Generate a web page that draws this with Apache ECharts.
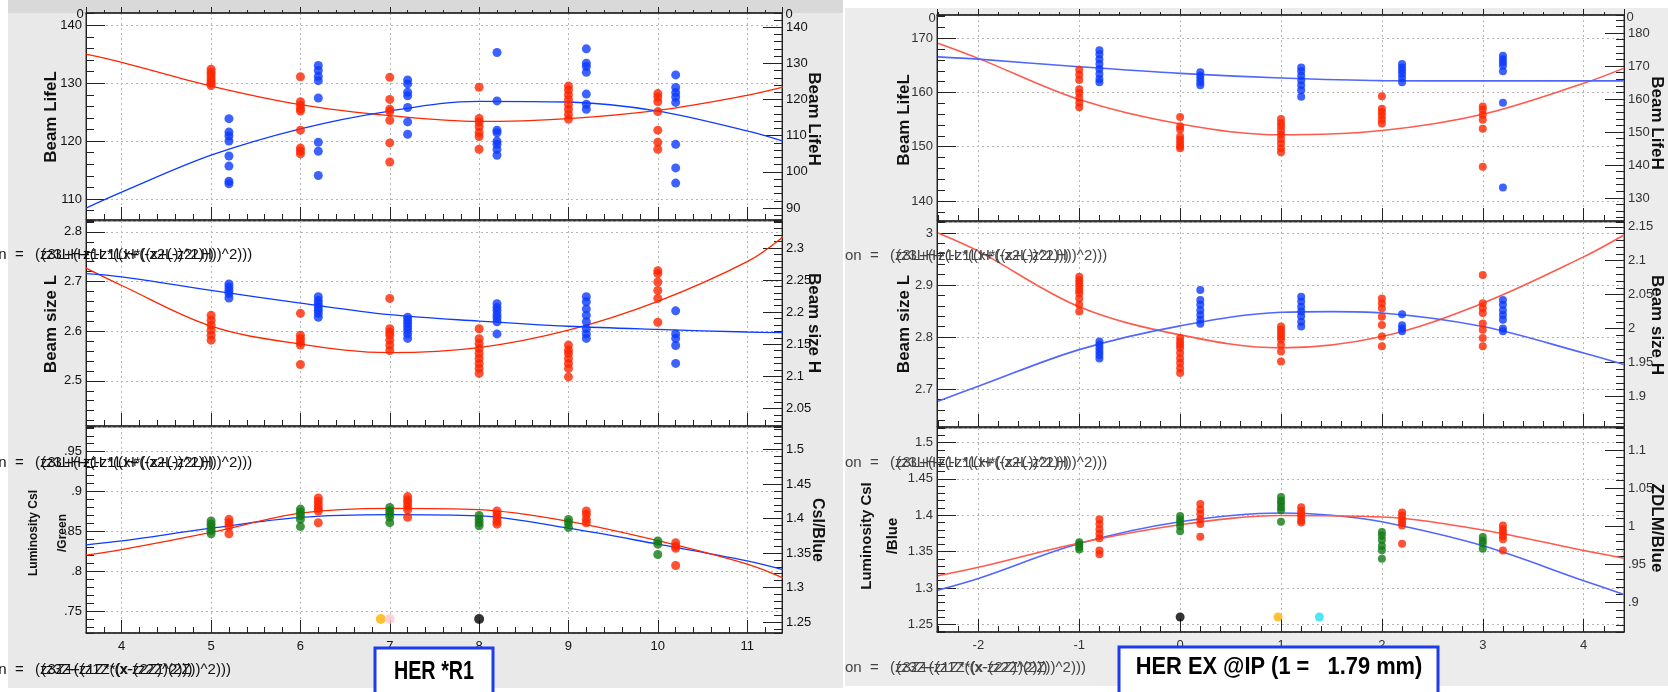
<!DOCTYPE html>
<html>
<head>
<meta charset="utf-8">
<script src="https://cdn.jsdelivr.net/npm/echarts@6.0.0/dist/echarts.min.js"></script>
<style>
html, body { margin: 0; padding: 0; background: #fff; }
#chart { width: 1668px; height: 692px; }
</style>
</head>
<body>
<div id="chart"></div>
<script>
// ---- values: [x, [y values]] per column ----
// HER *R1 scan (left panel)
const r1_lifeL = [[5, [132.4, 131.9, 131.4, 130.9, 130.4, 130.0, 129.6]], [6, [131.1, 126.8, 126.2, 125.6, 125.2, 121.9, 118.8, 118.3, 117.8]], [7, [131.0, 127.2, 125.5, 125.1, 123.6, 119.7, 116.4]], [8, [129.3, 123.9, 123.3, 122.5, 121.5, 120.8, 118.6]], [9, [129.5, 128.8, 128.0, 127.2, 126.3, 125.5, 124.6, 123.8]], [10, [128.2, 127.6, 126.8, 125.1, 121.9, 119.8, 118.6]]];
const r1_lifeH = [[5.2, [114.7, 111.0, 109.9, 108.5, 104.4, 101.6, 97.4, 96.7]], [6.2, [129.4, 128.0, 126.4, 125.2, 120.4, 108.2, 105.7, 99.0]], [7.2, [125.4, 124.3, 122.0, 121.0, 117.8, 113.8, 110.4]], [8.2, [133.0, 119.6, 111.5, 110.8, 108.5, 107.6, 106.2, 104.6]], [9.2, [134.0, 130.0, 129.1, 127.5, 121.5, 118.7, 117.3]], [10.2, [126.8, 123.3, 121.9, 120.7, 119.2, 107.6, 101.1, 96.9]]];
const r1_fitLifeL = [[3.6, 135.0], [4, 133.6], [5, 129.5], [6, 126.3], [7, 124.4], [8, 123.4], [9, 123.9], [10, 125.3], [11, 127.9], [11.4, 129.3]];
const r1_fitLifeH = [[3.6, 90.0], [4, 94.4], [5, 104.6], [6, 111.9], [7, 116.8], [8, 119.5], [9, 119.3], [10, 116.8], [11, 111.3], [11.4, 108.5]];

const r1_sizeL = [[5, [2.632, 2.622, 2.612, 2.602, 2.592, 2.582]], [6, [2.636, 2.592, 2.585, 2.578, 2.572, 2.533]], [7, [2.666, 2.605, 2.598, 2.592, 2.582, 2.572, 2.561]], [8, [2.605, 2.585, 2.575, 2.565, 2.555, 2.545, 2.535, 2.525, 2.515]], [9, [2.572, 2.562, 2.555, 2.545, 2.535, 2.525, 2.508]], [10, [2.722, 2.716, 2.699, 2.682, 2.666, 2.618]]];
const r1_sizeH = [[5.2, [2.244, 2.239, 2.234, 2.229, 2.222]], [6.2, [2.224, 2.218, 2.213, 2.208, 2.203, 2.198, 2.192]], [7.2, [2.192, 2.187, 2.182, 2.177, 2.172, 2.166, 2.159]], [8.2, [2.213, 2.207, 2.202, 2.196, 2.191, 2.185, 2.166]], [9.2, [2.224, 2.216, 2.205, 2.195, 2.185, 2.174, 2.166, 2.159]], [10.2, [2.202, 2.166, 2.159, 2.148, 2.120]]];
const r1_fitSizeL = [[3.6, 2.727], [4, 2.692], [5, 2.61], [6, 2.574], [7, 2.557], [8, 2.567], [9, 2.602], [10, 2.66], [11, 2.74], [11.4, 2.79]];
const r1_fitSizeH = [[3.6, 2.26], [4, 2.255], [5, 2.234], [6, 2.214], [7, 2.196], [8, 2.186], [9, 2.178], [10, 2.173], [11, 2.169], [11.4, 2.168]];

const r1_lumGreen = [[5, [0.863, 0.859, 0.855, 0.851, 0.847]], [6, [0.878, 0.874, 0.870, 0.865, 0.856]], [7, [0.880, 0.876, 0.872, 0.868, 0.861]], [8, [0.870, 0.865, 0.861, 0.857]], [9, [0.865, 0.861, 0.855]], [10, [0.838, 0.834, 0.821]]];
const r1_lumBlue = [[5.2, [1.399, 1.394, 1.389, 1.378]], [6.2, [1.430, 1.425, 1.420, 1.415, 1.411, 1.394]], [7.2, [1.432, 1.427, 1.423, 1.418, 1.413, 1.402]], [8.2, [1.411, 1.406, 1.401, 1.396, 1.392]], [9.2, [1.411, 1.406, 1.399, 1.394]], [10.2, [1.365, 1.360, 1.357, 1.332]]];
const r1_fitGreen = [[3.6, 0.833], [4, 0.838], [5, 0.854], [6, 0.8675], [7, 0.871], [8, 0.8696], [9, 0.854], [10, 0.834], [11, 0.813], [11.4, 0.802]];
const r1_fitBlue = [[3.6, 1.347], [4, 1.355], [5, 1.38], [6, 1.408], [7, 1.415], [8, 1.413], [9, 1.396], [10, 1.368], [11, 1.334], [11.4, 1.314]];
const r1_markers = [[6.9, 0.74, '#ffb000'], [7.0, 0.74, '#ffc8d0'], [8.0, 0.74, '#000000']];

// HER EX @IP scan (right panel)
const ex_lifeL = [[-1, [164.2, 163.3, 162.3, 160.6, 159.9, 159.0, 158.1, 157.3]], [0, [155.5, 153.8, 153.2, 151.9, 151.3, 150.7, 150.1, 149.7]], [1, [155.1, 154.4, 153.8, 153.0, 152.2, 151.4, 150.6, 149.7, 149.0]], [2, [159.3, 157.0, 156.4, 155.7, 155.0, 154.3]], [3, [157.4, 156.8, 155.9, 155.0, 153.3, 146.3]]];
const ex_lifeH = [[-0.8, [174.8, 173.6, 172.1, 170.6, 169.1, 167.6, 166.1, 165.1]], [0.2, [168.1, 167.1, 166.1, 165.1, 164.2]], [1.2, [169.6, 168.4, 167.1, 165.6, 164.2, 162.7, 160.7]], [2.2, [170.6, 169.6, 168.6, 167.6, 166.4, 165.1]], [3.2, [173.1, 172.1, 171.1, 170.1, 168.4, 158.9, 133.2]]];
const ex_fitLifeL = [[-2.4, 169.1], [-2, 166.3], [-1, 158.7], [0, 154.2], [1, 152.2], [2, 153.0], [3, 156.0], [4, 161.7], [4.4, 164.5]];
const ex_fitLifeH = [[-2.4, 172.8], [-2, 172.1], [-1, 169.8], [0, 167.8], [1, 166.4], [2, 165.6], [3, 165.5], [4.4, 165.5]];

const ex_sizeL = [[-1, [2.916, 2.909, 2.903, 2.897, 2.890, 2.884, 2.874, 2.862, 2.849]], [0, [2.798, 2.791, 2.785, 2.779, 2.769, 2.759, 2.750, 2.740, 2.731]], [1, [2.820, 2.814, 2.807, 2.801, 2.795, 2.785, 2.772, 2.753]], [2, [2.874, 2.865, 2.855, 2.839, 2.823, 2.801, 2.782]], [3, [2.919, 2.865, 2.855, 2.846, 2.826, 2.814, 2.798, 2.782]]];
const ex_sizeH = [[-0.8, [1.981, 1.976, 1.971, 1.966, 1.961, 1.956]], [0.2, [2.057, 2.042, 2.035, 2.027, 2.020, 2.013, 2.007]], [1.2, [2.047, 2.040, 2.032, 2.025, 2.018, 2.010, 2.003]], [2.2, [2.021, 2.005, 2.000, 1.996]], [3.2, [2.042, 2.035, 2.027, 2.020, 2.013, 2.000, 1.996]]];
const ex_fitSizeL = [[-2.4, 3.0], [-2, 2.965], [-1, 2.858], [0, 2.804], [1, 2.779], [2, 2.801], [3, 2.865], [4, 2.954], [4.4, 2.996]];
const ex_fitSizeH = [[-2.4, 1.893], [-2, 1.915], [-1, 1.969], [0, 2.004], [1, 2.024], [1.5, 2.025], [2, 2.023], [3, 2.003], [4, 1.964], [4.4, 1.947]];

const ex_lumGreen = [[-1, [1.363, 1.360, 1.356, 1.353]], [0, [1.399, 1.394, 1.390, 1.385, 1.378]], [1, [1.425, 1.420, 1.416, 1.411, 1.407, 1.391]], [2, [1.377, 1.372, 1.366, 1.358, 1.352, 1.340]], [3, [1.370, 1.365, 1.361, 1.354]]];
const ex_lumZdlm = [[-0.8, [1.009, 1.003, 0.996, 0.990, 0.984, 0.968, 0.963]], [0.2, [1.029, 1.022, 1.016, 1.009, 1.003, 0.986]], [1.2, [1.025, 1.020, 1.016, 1.012, 1.007, 1.005]], [2.2, [1.018, 1.014, 1.009, 1.005, 1.001, 0.977]], [3.2, [1.001, 0.996, 0.992, 0.987, 0.983, 0.968]]];
const ex_fitGreen = [[-2.4, 1.297], [-2, 1.313], [-1, 1.361], [0, 1.391], [1, 1.403], [1.5, 1.400], [2, 1.391], [3, 1.358], [4, 1.31], [4.4, 1.291]];
const ex_fitZdlm = [[-2.4, 0.935], [-2, 0.946], [-1, 0.978], [0, 1.002], [1, 1.014], [2, 1.012], [3, 0.995], [4, 0.968], [4.4, 0.958]];
const ex_markers = [[0, 1.26, '#000000'], [0.97, 1.26, '#ffb000'], [1.38, 1.26, '#20e0f0']];

// ---- layout ----
const FONT = '"Liberation Sans", Arial, sans-serif';
const RED = '#ff2600', BLUE = '#0d3bff', GREEN = '#117a14';
const RED2 = '#ff5a4c', BLUE2 = '#4f66ff';

// box, x range, left y [min, max, step, minor], right y [...]
const panels = [
	{ box: { left: 86, top: 13, width: 696, height: 207 }, x: [3.6, 11.39], yl: [106.4, 142.1, 10, 2], yr: [86.7, 143.9, 10, 2], top: true },
	{ box: { left: 86, top: 221, width: 696, height: 205 }, x: [3.6, 11.39], yl: [2.409, 2.822, 0.1, 0.02], yr: [2.0225, 2.342, 0.05, 0.01] },
	{ box: { left: 86, top: 427, width: 696, height: 206 }, x: [3.6, 11.39], yl: [0.7225, 0.981, 0.05, 0.01], yr: [1.234, 1.533, 0.05, 0.01], labels: true },
	{ box: { left: 937, top: 15, width: 687, height: 206 }, x: [-2.41, 4.4], yl: [136.3, 174.3, 10, 2], yr: [123, 185.5, 10, 2], top: true, dim: true },
	{ box: { left: 937, top: 222, width: 687, height: 205 }, x: [-2.41, 4.4], yl: [2.627, 3.021, 0.1, 0.02], yr: [1.855, 2.157, 0.05, 0.01], dim: true },
	{ box: { left: 937, top: 428, width: 687, height: 204 }, x: [-2.41, 4.4], yl: [1.2394, 1.52, 0.05, 0.01], yr: [0.861, 1.129, 0.05, 0.01], labels: true, dim: true },
];

const fmt = v => String(+(+v).toFixed(4)).replace(/^(-?)0\./, '$1.');
const cols = c => c.flatMap(([x, vs]) => vs.map(v => [x, v]));

const grid = [], xAxis = [], yAxis = [], series = [];
const XI = [], YL = [], YR = [];
const tick = { color: '#222', width: 1 };
const noLine = { show: false, onZero: false };

panels.forEach((p, g) => {
	grid.push({ ...p.box, show: true, backgroundColor: '#fff', borderColor: '#333', borderWidth: 1 });
	const lab = { fontSize: 13, fontFamily: FONT, color: p.dim ? '#333' : '#111', showMinLabel: false, showMaxLabel: false, formatter: fmt };
	const split = { show: true, lineStyle: { color: '#b5b5b5', type: [2, 3], width: 1 } };
	const ax = (o, step, pos) => ({ gridIndex: g, type: 'value', position: pos, min: o[0], max: o[1], minInterval: step, maxInterval: step });

	XI[g] = xAxis.length;
	xAxis.push({
		...ax(p.x, 1, 'bottom'),
		axisLine  : { show: true, onZero: false, lineStyle: { color: '#222', width: 1.5 } },
		axisTick  : { inside: true, length: 13, lineStyle: tick },
		axisLabel : { ...lab, show: !!p.labels, margin: 7 },
		splitLine : split,
	});
	xAxis.push({ ...ax(p.x, 0.2, 'bottom'), axisLine: noLine, axisTick: { inside: true, length: 6, lineStyle: tick }, axisLabel: { show: false }, splitLine: { show: false } });
	if (p.top) {
		xAxis.push({ ...ax(p.x, 1, 'top'), axisLine: { show: true, onZero: false, lineStyle: { color: '#222', width: 1.5 } }, axisTick: { inside: false, length: 6, lineStyle: tick }, axisLabel: { show: false }, splitLine: { show: false } });
		xAxis.push({ ...ax(p.x, 0.2, 'top'), axisLine: noLine, axisTick: { inside: false, length: 3, lineStyle: tick }, axisLabel: { show: false }, splitLine: { show: false } });
	}

	YL[g] = yAxis.length;
	yAxis.push({
		...ax(p.yl, p.yl[2], 'left'),
		axisLine  : { show: true, onZero: false, lineStyle: { color: '#222', width: 1 } },
		axisTick  : { inside: true, length: 19, lineStyle: tick },
		axisLabel : { ...lab, margin: 4 },
		splitLine : split,
	});
	yAxis.push({ ...ax(p.yl, p.yl[3], 'left'), axisLine: noLine, axisTick: { inside: true, length: 8, lineStyle: tick }, axisLabel: { show: false }, splitLine: { show: false } });
	YR[g] = yAxis.length;
	yAxis.push({
		...ax(p.yr, p.yr[2], 'right'),
		axisLine  : { show: true, onZero: false, lineStyle: { color: '#222', width: 1 } },
		axisTick  : { inside: true, length: 19, lineStyle: tick },
		axisLabel : { ...lab, margin: 4 },
		splitLine : { show: false },
	});
	yAxis.push({ ...ax(p.yr, p.yr[3], 'right'), axisLine: noLine, axisTick: { inside: true, length: 8, lineStyle: tick }, axisLabel: { show: false }, splitLine: { show: false } });
});

const pts = (data, g, side, color, size = 9) => series.push({
	type       : 'scatter',
	xAxisIndex : XI[g],
	yAxisIndex : side == 'L' ? YL[g] : YR[g],
	data,
	symbolSize : size,
	itemStyle  : { color: color || (d => d.data[2]) },
	z          : 4,
});
const fit = (data, g, side, color, width = 1.3) => series.push({
	type       : 'line',
	xAxisIndex : XI[g],
	yAxisIndex : side == 'L' ? YL[g] : YR[g],
	data,
	smooth     : 0.35,
	showSymbol : false,
	lineStyle  : { color, width },
	z          : 3,
});

fit(r1_fitLifeL, 0, 'L', RED); fit(r1_fitLifeH, 0, 'R', BLUE);
pts(cols(r1_lifeL), 0, 'L', RED); pts(cols(r1_lifeH), 0, 'R', BLUE);
fit(r1_fitSizeL, 1, 'L', RED); fit(r1_fitSizeH, 1, 'R', BLUE);
pts(cols(r1_sizeL), 1, 'L', RED); pts(cols(r1_sizeH), 1, 'R', BLUE);
fit(r1_fitGreen, 2, 'L', BLUE); fit(r1_fitBlue, 2, 'R', RED);
pts(cols(r1_lumGreen), 2, 'L', GREEN); pts(cols(r1_lumBlue), 2, 'R', RED);
pts(r1_markers, 2, 'L', null, 10);

fit(ex_fitLifeL, 3, 'L', RED2, 1.6); fit(ex_fitLifeH, 3, 'R', BLUE2, 1.6);
pts(cols(ex_lifeL), 3, 'L', RED, 8); pts(cols(ex_lifeH), 3, 'R', BLUE, 8);
fit(ex_fitSizeL, 4, 'L', RED2, 1.6); fit(ex_fitSizeH, 4, 'R', BLUE2, 1.6);
pts(cols(ex_sizeL), 4, 'L', RED, 8); pts(cols(ex_sizeH), 4, 'R', BLUE, 8);
fit(ex_fitGreen, 5, 'L', BLUE2, 1.6); fit(ex_fitZdlm, 5, 'R', RED2, 1.6);
pts(cols(ex_lumGreen), 5, 'L', GREEN, 8); pts(cols(ex_lumZdlm), 5, 'R', RED, 8);
pts(ex_markers, 5, 'L', null, 9);

// ---- texts and backdrop ----
const txt = (text, x, y, o = {}) => ({
	type     : 'text',
	x, y,
	rotation : o.rot || 0,
	scaleX   : o.sx || 1,
	z        : 100,
	silent   : true,
	style    : { text, font: o.font || `13px ${FONT}`, fill: o.fill || '#111', align: o.align || 'center', verticalAlign: 'middle', lineHeight: o.lh },
});
const UP = Math.PI / 2, DOWN = -Math.PI / 2;
const bold = s => `bold ${s}px ${FONT}`;
// the fit formula is printed twice, slightly shifted, in the scan
const formula = (x, y, a, b, fill) => [
	txt('on  =  ', x, y, { align: 'left', font: `15px ${FONT}`, fill }),
	txt(a, x + 45, y, { align: 'left', font: `15px ${FONT}`, fill }),
	txt(b, x + 51, y, { align: 'left', font: `15px ${FONT}`, fill }),
];
const fA = '(z3L+(-z1L*((x+(-z2L))^2)))', fB = '(z3LH+(-z1LH*((x+(-z2LH))^2)))';
const gA = '(z3Z+(z1Z*((x-z2Z)^2)))', gB = '(z3Z+(z1Z*(x-(z2Z)(2Z))^2)))';

const graphic = [
	{ type: 'rect', shape: { x: 8, y: 0, width: 835, height: 688 }, style: { fill: '#e9e9e9' }, z: -100, silent: true },
	{ type: 'rect', shape: { x: 8, y: 0, width: 835, height: 13 }, style: { fill: '#d9d9d9' }, z: -99, silent: true },
	{ type: 'rect', shape: { x: 845, y: 8, width: 823, height: 678 }, style: { fill: '#ececec' }, z: -100, silent: true },

	txt('Beam LifeL', 51, 117, { rot: UP, font: bold(17) }),
	txt('Beam LifeH', 814, 119, { rot: DOWN, font: bold(17) }),
	txt('Beam size L', 51, 324, { rot: UP, font: bold(17) }),
	txt('Beam size H', 814, 323, { rot: DOWN, font: bold(17) }),
	txt('Luminosity CsI\n/Green', 48, 533, { rot: UP, font: bold(12), lh: 29 }),
	txt('CsI/Blue', 817, 530, { rot: DOWN, font: bold(16) }),

	txt('Beam LifeL', 904, 120, { rot: UP, font: bold(17) }),
	txt('Beam LifeH', 1657, 123, { rot: DOWN, font: bold(17) }),
	txt('Beam size L', 904, 324, { rot: UP, font: bold(17) }),
	txt('Beam size H', 1657, 325, { rot: DOWN, font: bold(17) }),
	txt('Luminosity CsI\n/Blue', 880, 536, { rot: UP, font: bold(15), lh: 26 }),
	txt('ZDLM/Blue', 1657, 528, { rot: DOWN, font: bold(17) }),

	txt('0', 80, 14), txt('0', 789, 14), txt('0', 932, 18, { fill: '#333' }), txt('0', 1630, 17, { fill: '#333' }),

	...formula(-10, 255, fA, fB, '#111'),
	...formula(-10, 463, fA, fB, '#111'),
	...formula(-10, 670, gA, gB, '#111'),
	...formula(845, 256, fA, fB, '#444'),
	...formula(845, 463, fA, fB, '#444'),
	...formula(845, 668, gA, gB, '#444'),

	{ type: 'rect', shape: { x: 375, y: 648, width: 118, height: 60 }, style: { fill: '#fff', stroke: '#1d3cf0', lineWidth: 3 }, z: 90, silent: true },
	txt('HER *R1', 434, 672, { font: bold(26), sx: 0.76, fill: '#000' }),
	{ type: 'rect', shape: { x: 1119, y: 647, width: 319, height: 60 }, style: { fill: '#fff', stroke: '#1d3cf0', lineWidth: 3 }, z: 90, silent: true },
	txt('HER EX @IP (1 =   1.79 mm)', 1279, 668, { font: bold(23), sx: 0.95, fill: '#000' }),
];

const chart = echarts.init(document.getElementById('chart'), null, { renderer: 'canvas' });
chart.setOption({
	animation       : false,
	backgroundColor : '#fff',
	grid,
	xAxis,
	yAxis,
	series,
	graphic,
});
</script>
</body>
</html>
